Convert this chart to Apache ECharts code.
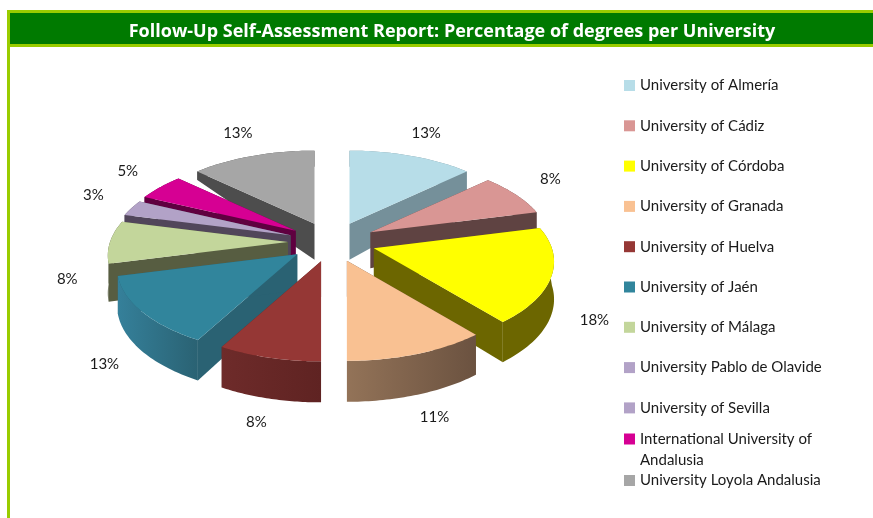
<!DOCTYPE html>
<html>
<head>
<meta charset="utf-8">
<title>Percentage of degrees per University</title>
<style>
  html, body { margin: 0; padding: 0; background: #fff; }
  #chart { width: 873px; height: 518px; }
</style>
<script src="https://cdn.jsdelivr.net/npm/echarts@6/dist/echarts.min.js"></script>
</head>
<body>
<div id="chart"></div>
<script>
// chart data
var titleText = 'Follow-Up Self-Assessment Report: Percentage of degrees per University'
var universities = [
  'University of Almería', 'University of Cádiz', 'University of Córdoba', 'University of Granada',
  'University of Huelva', 'University of Jaén', 'University of Málaga', 'University Pablo de Olavide',
  'University of Sevilla', 'International University of Andalusia', 'University Loyola Andalusia'
]
var degreeShare = [13, 8, 18, 11, 8, 13, 8, 3, 0, 5, 13]
var topColors = ['#b7dde8', '#d99694', '#ffff00', '#f9c192', '#953735', '#31859c', '#c3d69b', '#b2a2c7', '#b2a2c7', '#d60093', '#a6a6a6']
var sideColors = ['#75909a', '#5f4342', '#6c6600', '#6b5240', '#5f2322', '#2a6273', '#575d41', '#51465a', '#51465a', '#5f0040', '#4d4d4d']
var arcLightColors = ['#75909a', '#5f4342', '#6c6600', '#937358', '#6e2b2a', '#35809a', '#575d41', '#51465a', '#51465a', '#5f0040', '#4d4d4d']
// painter's order, back slices first
var drawOrder = [0, 10, 9, 8, 7, 6, 5, 1, 2, 3, 4]

// pie projection
var cx = 332, cy = 242
var radiusX = 178, radiusY = 84.4, persp = 0.156
var explodeX = 44, explodeY = 20

function project(angle) {
  var x = Math.sin(angle), z = Math.cos(angle)
  var s = 1 / (1 + persp * z)
  return { dx: radiusX * x * s, dy: -radiusY * z * s, x: x, z: z }
}

// side height shrinks towards the back of the pie
function depthAt(x, z) {
  if (z <= 0) return 37 - 4 * z
  return 36 - 20 * Math.min(1, z / 0.25) + 15 * x * z
}

function sharePoint(apex, angle) {
  var p = project(angle)
  return { x: apex[0] + p.dx, y: apex[1] + p.dy, depth: depthAt(p.x, p.z) }
}

function radialFace(apex, tip, fill) {
  return {
    type: 'polygon',
    shape: { points: [apex, [tip.x, tip.y], [tip.x, tip.y + tip.depth], [apex[0], apex[1] + 36]] },
    style: { fill: fill }
  }
}

function renderSlice(index) {
  return function (params, api) {
    var startShare = api.value(0), share = api.value(1)
    if (!share) return null
    var a0 = startShare / 100 * Math.PI * 2
    var a1 = (startShare + share) / 100 * Math.PI * 2
    var mid = (a0 + a1) / 2
    var apex = [cx + explodeX * Math.sin(mid), cy - explodeY * Math.cos(mid)]

    var top = [apex], upper = [], lower = []
    var steps = 40
    for (var i = 0; i <= steps; i++) {
      var pt = sharePoint(apex, a0 + (a1 - a0) * i / steps)
      top.push([pt.x, pt.y])
      upper.push([pt.x, pt.y])
      lower.unshift([pt.x, pt.y + pt.depth])
    }
    var tip0 = sharePoint(apex, a0), tip1 = sharePoint(apex, a1)
    var side = sideColors[index]
    var light = arcLightColors[index]
    // the arc shading runs lighter on the front left
    var arcFill = new echarts.graphic.LinearGradient(0, 0, 1, 0, [
      { offset: 0, color: a1 > Math.PI ? light : side },
      { offset: 1, color: a1 > Math.PI ? side : side }
    ])
    if (index === 3) {
      arcFill = new echarts.graphic.LinearGradient(0, 0, 1, 0, [
        { offset: 0, color: light }, { offset: 1, color: side }
      ])
    }

    var lp = project(mid)
    var labelReach = 1.24
    var labelX = apex[0] + lp.dx * labelReach
    var labelY = apex[1] + lp.dy * labelReach + (lp.z < 0 ? depthAt(lp.x, lp.z) : -6)

    return {
      type: 'group',
      children: [
        radialFace(apex, tip0, side),
        radialFace(apex, tip1, side),
        { type: 'polygon', shape: { points: upper.concat(lower) }, style: { fill: arcFill } },
        { type: 'polygon', shape: { points: top }, style: { fill: topColors[index] } },
        {
          type: 'text',
          z2: 50,
          style: {
            x: labelX, y: labelY, text: share + '%',
            fill: '#1a1a1a', font: '15px Lato', align: 'center', verticalAlign: 'middle'
          }
        }
      ]
    }
  }
}

var running = 0
var starts = degreeShare.map(function (v) {
  var s = running
  running += v
  return s
})

var series = universities.map(function (name, i) {
  return {
    type: 'custom',
    name: name,
    coordinateSystem: 'none',
    z: 2 + drawOrder.indexOf(i),
    silent: true,
    itemStyle: { color: topColors[i] },
    renderItem: renderSlice(i),
    encode: { value: [0, 1] },
    data: [[starts[i], degreeShare[i]]]
  }
})

var legendBase = {
  orient: 'vertical',
  left: 624,
  padding: 0,
  itemWidth: 11,
  itemHeight: 11,
  icon: 'rect',
  selectedMode: false,
  textStyle: { fontFamily: 'Lato', fontSize: 15, color: '#1a1a1a', lineHeight: 14 }
}

function legendOf(top, gap, names, extra) {
  return Object.assign({}, legendBase, { top: top, itemGap: gap, data: names }, extra || {})
}

var chart = echarts.init(document.getElementById('chart'), null, { renderer: 'canvas' })
chart.setOption({
  animation: false,
  backgroundColor: '#ffffff',
  title: {
    text: titleText,
    left: 447,
    top: 18,
    textAlign: 'center',
    textStyle: { color: '#ffffff', fontFamily: 'Open Sans', fontWeight: 'bold', fontSize: 18 }
  },
  legend: [
    legendOf(78, 25.3, universities.slice(0, 9)),
    // leading blank line keeps the swatch level with the first line of text
    legendOf(407.5, 0, [universities[9]], {
      textStyle: { fontFamily: 'Lato', fontSize: 15, color: '#1a1a1a', lineHeight: 21 },
      formatter: function () { return '\nInternational University of\nAndalusia' }
    }),
    legendOf(473, 0, [universities[10]])
  ],
  graphic: [
    { type: 'rect', z: 0, shape: { x: 7, y: 10, width: 3, height: 508 }, style: { fill: '#99cc00' } },
    { type: 'rect', z: 0, shape: { x: 7, y: 10, width: 866, height: 37 }, style: { fill: '#99cc00' } },
    { type: 'rect', z: 0, shape: { x: 10, y: 13, width: 863, height: 31 }, style: { fill: '#007a00' } }
  ],
  series: series
})
</script>
</body>
</html>
